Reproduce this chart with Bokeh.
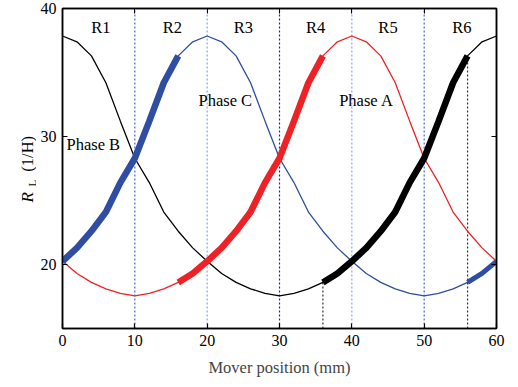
import math
from bokeh.plotting import figure
from bokeh.layouts import row
from bokeh.models import Range1d, FixedTicker, LinearAxis
from bokeh.core.properties import value
from bokeh.embed import file_html
from bokeh.resources import INLINE

# ---- data ----
x_pos = [0, 2, 4, 6, 8, 10, 12, 14, 16, 18, 20, 22, 24, 26, 28, 30,
         32, 34, 36, 38, 40, 42, 44, 46, 48, 50, 52, 54, 56, 58, 60]
phase_b = [37.85, 37.4, 36.3, 34.2, 31.2, 28.3, 26.4, 24.1, 22.6, 21.3, 20.25,
           19.3, 18.6, 18.1, 17.75, 17.55, 17.75, 18.1, 18.6, 19.3, 20.25,
           21.3, 22.6, 24.1, 26.4, 28.3, 31.2, 34.2, 36.3, 37.4, 37.85]
phase_c = [20.25, 21.3, 22.6, 24.1, 26.4, 28.3, 31.2, 34.2, 36.3, 37.4, 37.85,
           37.4, 36.3, 34.2, 31.2, 28.3, 26.4, 24.1, 22.6, 21.3, 20.25,
           19.3, 18.6, 18.1, 17.75, 17.55, 17.75, 18.1, 18.6, 19.3, 20.25]
phase_a = [20.25, 19.3, 18.6, 18.1, 17.75, 17.55, 17.75, 18.1, 18.6, 19.3, 20.25,
           21.3, 22.6, 24.1, 26.4, 28.3, 31.2, 34.2, 36.3, 37.4, 37.85,
           37.4, 36.3, 34.2, 31.2, 28.3, 26.4, 24.1, 22.6, 21.3, 20.25]

region_bounds = [10, 20, 30, 40, 50]
region_colors = ["#4a68c4", "#8ea6e0", "#1f2f80", "#8ea6e0", "#4a68c4"]
switch_pos = [36, 56]
region_labels = ["R1", "R2", "R3", "R4", "R5", "R6"]
region_label_x = [5.3, 15.2, 25, 35, 45, 55.2]
phase_labels = ["Phase B", "Phase C", "Phase A"]
phase_label_x = [0.55, 18.8, 38.25]
phase_label_y = [29.4, 32.8, 32.8]
x_ticks = [0, 10, 20, 30, 40, 50, 60]
y_ticks = [20, 30, 40]

BLUE = "#2e4da3"
RED = "#ee2226"
BLACK = "#000000"
FONT = "Liberation Serif"

TITLE_W = 36
W, H = 518, 387

yr = Range1d(15, 40)
p = figure(width=W - TITLE_W, height=H, output_backend="svg", toolbar_location=None,
           x_range=Range1d(0, 60), y_range=yr,
           min_border_left=62 - TITLE_W, min_border_right=22, min_border_top=8,
           min_border_bottom=59)
p.background_fill_color = "white"
p.border_fill_color = "white"
p.grid.visible = False
p.outline_line_color = "black"
p.outline_line_width = 1.5

for ax in [p.xaxis[0], p.yaxis[0]]:
    ax.axis_line_width = 1.5
    ax.major_tick_in = 5
    ax.major_tick_out = 0
    ax.minor_tick_line_color = None
    ax.major_tick_line_width = 1.2
    ax.major_label_text_font = FONT
    ax.major_label_text_font_size = "16px"
    ax.major_label_text_color = "black"
    ax.major_label_standoff = 6

p.xaxis.ticker = FixedTicker(ticks=x_ticks)
p.yaxis.ticker = FixedTicker(ticks=y_ticks)
p.xaxis.axis_label = "Mover position (mm)"
p.xaxis.axis_label_text_font = FONT
p.xaxis.axis_label_text_font_style = "normal"
p.xaxis.axis_label_text_font_size = "16.5px"
p.xaxis.axis_label_standoff = 9
p.yaxis.major_label_standoff = 6

top = LinearAxis(ticker=FixedTicker(ticks=x_ticks), major_tick_in=5, major_tick_out=0,
                 minor_tick_line_color=None,
                 major_label_overrides={t: "" for t in x_ticks},
                 major_label_standoff=0, axis_line_width=1.5)
right = LinearAxis(ticker=FixedTicker(ticks=y_ticks), major_tick_in=5, major_tick_out=0,
                   minor_tick_line_color=None,
                   major_label_overrides={t: "" for t in y_ticks},
                   major_label_standoff=0, axis_line_width=1.5)
p.add_layout(top, "above")
p.add_layout(right, "right")

# region boundary dotted lines
for xb, c in zip(region_bounds, region_colors):
    p.segment(x0=[xb], y0=[15], x1=[xb], y1=[40], line_color=c, line_width=1.2,
              line_dash="2 2")
# switching position dotted lines
for xs in switch_pos:
    i = x_pos.index(xs)
    p.segment(x0=[xs], y0=[15], x1=[xs], y1=[phase_b[i]], line_color="#333333",
              line_width=1.2, line_dash="2 2")

# thin curves
p.line(x_pos, phase_b, line_color=BLACK, line_width=1.3)
p.line(x_pos, phase_c, line_color=BLUE, line_width=1.3)
p.line(x_pos, phase_a, line_color=RED, line_width=1.3)

# thick active segments
i16 = x_pos.index(16); i36 = x_pos.index(36); i56 = x_pos.index(56)
p.line(x_pos[:i16 + 1], phase_c[:i16 + 1], line_color=BLUE, line_width=6.5)
p.line(x_pos[i16:i36 + 1], phase_a[i16:i36 + 1], line_color=RED, line_width=6.5)
p.line(x_pos[i36:i56 + 1], phase_b[i36:i56 + 1], line_color=BLACK, line_width=6.5)
p.line(x_pos[i56:], phase_c[i56:], line_color=BLUE, line_width=5)

# region labels
p.text(x=region_label_x, y=[38.5] * 6, text=region_labels, text_font=value(FONT),
       text_font_size="16.5px", text_align="center", text_baseline="middle",
       text_color="black")
# phase labels
p.text(x=phase_label_x, y=phase_label_y, text=phase_labels, text_font=value(FONT),
       text_font_size="16.5px", text_align="left", text_baseline="middle",
       text_color="black")

# ---- y-axis title panel: R_L (1/H), sharing the main plot's y range ----
t = figure(width=TITLE_W, height=H, output_backend="svg", toolbar_location=None,
           x_range=Range1d(0, TITLE_W), y_range=yr,
           min_border_left=0, min_border_right=0,
           min_border_top=8, min_border_bottom=59)
t.axis.visible = False
t.grid.visible = False
t.outline_line_color = None
t.background_fill_color = "white"
t.border_fill_color = "white"
t.text(x=[27], y=[24.85], text=["R"], angle=math.pi / 2, text_font=value(FONT),
       text_font_style="italic", text_font_size="17px", text_baseline="alphabetic",
       text_align="left", text_color="black")
t.text(x=[31], y=[26.1], text=["L"], angle=math.pi / 2, text_font=value(FONT),
       text_font_size="11px", text_baseline="alphabetic", text_align="left",
       text_color="black")
t.text(x=[27], y=[27.25], text=["(1/H)"], angle=math.pi / 2, text_font=value(FONT),
       text_font_size="16.5px", text_baseline="alphabetic", text_align="left",
       text_color="black")

layout = row(t, p)
open("out.html", "w").write(file_html(layout, INLINE))
